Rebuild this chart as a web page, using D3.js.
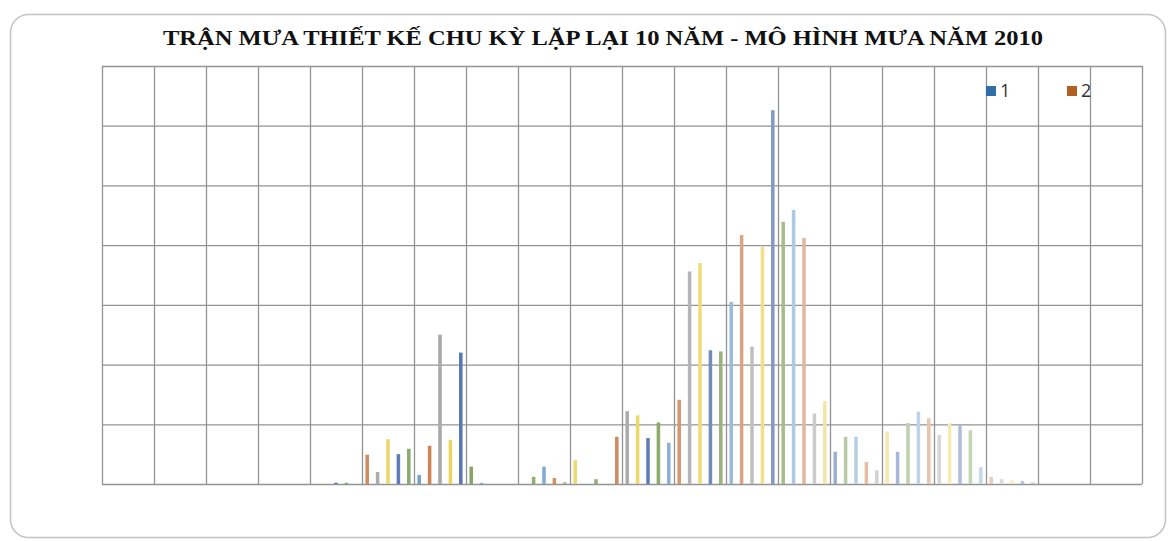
<!DOCTYPE html>
<html>
<head>
<meta charset="utf-8">
<script src="https://cdn.jsdelivr.net/npm/d3@7"></script>
<style>
  body { margin: 0; background: #ffffff; }
  #chart svg { display: block; }
</style>
</head>
<body>
<div id="chart"></div>
<script>
// data (one varied-colour series, 100 points)
const titleText = "TRẬN MƯA THIẾT KẾ CHU KỲ LẶP LẠI 10 NĂM - MÔ HÌNH MƯA NĂM 2010";
const categories = d3.range(1, 101).map(String);
const rainValues = [
  0, 0, 0, 0, 0, 0, 0, 0, 0, 0,
  0, 0, 0, 0, 0, 0, 0, 0, 0, 0,
  0, 0, 0.02, 0.02, 0, 0.49, 0.2, 0.75, 0.5, 0.59,
  0.15, 0.64, 2.5, 0.74, 2.2, 0.29, 0.02, 0, 0, 0,
  0, 0.12, 0.29, 0.1, 0.03, 0.4, 0, 0.08, 0, 0.79,
  1.22, 1.15, 0.77, 1.03, 0.69, 1.41, 3.56, 3.7, 2.24, 2.22,
  3.05, 4.17, 2.3, 3.97, 6.26, 4.39, 4.59, 4.12, 1.18, 1.39,
  0.54, 0.79, 0.79, 0.37, 0.23, 0.88, 0.54, 1.02, 1.21, 1.1,
  0.82, 1.02, 0.99, 0.9, 0.28, 0.12, 0.08, 0.06, 0.05, 0.03,
  0, 0, 0, 0, 0, 0, 0, 0, 0, 0
];
const legendLabels = ["1", "2"];

const width = 1170, height = 541;
const plot = { left: 102, right: 1142, top: 66, bottom: 484 };

// palette cycles every 6 points, getting paler further along
const basePalette = ["#6E9CCB", "#C97D4E", "#A3A3A3", "#EAD25A", "#4F6FAE", "#7FA05A"];
const blockFade = [0, 0.05, 0.1, 0.05, 0.1, 0.05, 0.15, 0.15, 0.1, 0.2, 0.3, 0.45, 0.5, 0.55, 0.6, 0.65, 0.7];
const legendColors = ["#2F6EA6", "#B35F22"];

function barColor(i) {
  const fade = blockFade[Math.min(Math.floor(i / 6), blockFade.length - 1)];
  return d3.interpolateRgb(basePalette[i % 6], "#ffffff")(fade);
}

const svg = d3.select("#chart").append("svg")
  .attr("width", width)
  .attr("height", height);

// chart frame
svg.append("rect")
  .attr("x", 10.5).attr("y", 14.5)
  .attr("width", 1155).attr("height", 523)
  .attr("rx", 18).attr("ry", 18)
  .attr("fill", "#ffffff")
  .attr("stroke", "#c4c4c4")
  .attr("stroke-width", 1.6);

const xScale = d3.scaleBand()
  .domain(categories)
  .range([plot.left, plot.right])
  .paddingInner(0.66)
  .paddingOuter(0.33);

const yScale = d3.scaleLinear()
  .domain([0, 7])
  .range([plot.bottom, plot.top]);

// vertical grid: one line every 5 categories
const colScale = d3.scaleLinear()
  .domain([0, 20])
  .range([plot.left, plot.right]);

const gridX = svg.append("g")
  .attr("transform", `translate(0,${plot.bottom})`)
  .call(d3.axisBottom(colScale).ticks(20).tickSize(-(plot.bottom - plot.top)).tickFormat(""));
gridX.select(".domain").remove();
gridX.selectAll("line").attr("stroke", "#939393").attr("stroke-width", 1.3);

const gridY = svg.append("g")
  .attr("transform", `translate(${plot.left},0)`)
  .call(d3.axisLeft(yScale).ticks(7).tickSize(-(plot.right - plot.left)).tickFormat(""));
gridY.select(".domain").remove();
gridY.selectAll("line").attr("stroke", "#939393").attr("stroke-width", 1.3);

// bars
svg.selectAll(".bar")
  .data(rainValues)
  .enter()
  .append("rect")
  .attr("class", "bar")
  .attr("x", (d, i) => xScale(categories[i]))
  .attr("y", d => yScale(d))
  .attr("width", xScale.bandwidth())
  .attr("height", d => yScale(0) - yScale(d))
  .attr("fill", (d, i) => barColor(i));

// title
svg.append("text")
  .attr("x", 603)
  .attr("y", 45)
  .attr("text-anchor", "middle")
  .attr("font-family", "Liberation Serif, serif")
  .attr("font-weight", "bold")
  .attr("font-size", "21px")
  .attr("textLength", 880)
  .attr("lengthAdjust", "spacingAndGlyphs")
  .attr("fill", "#111111")
  .text(titleText);

// legend (only the first two entries are visible)
const legend = svg.append("g")
  .selectAll("g")
  .data(legendLabels)
  .enter()
  .append("g")
  .attr("transform", (d, i) => `translate(${986 + i * 81},86)`);

legend.append("rect")
  .attr("width", 10).attr("height", 10)
  .attr("fill", (d, i) => legendColors[i]);

legend.append("text")
  .attr("x", 14)
  .attr("y", 11)
  .attr("font-family", "Open Sans, sans-serif")
  .attr("font-size", "18px")
  .attr("fill", "#333333")
  .text(d => d);
</script>
</body>
</html>
